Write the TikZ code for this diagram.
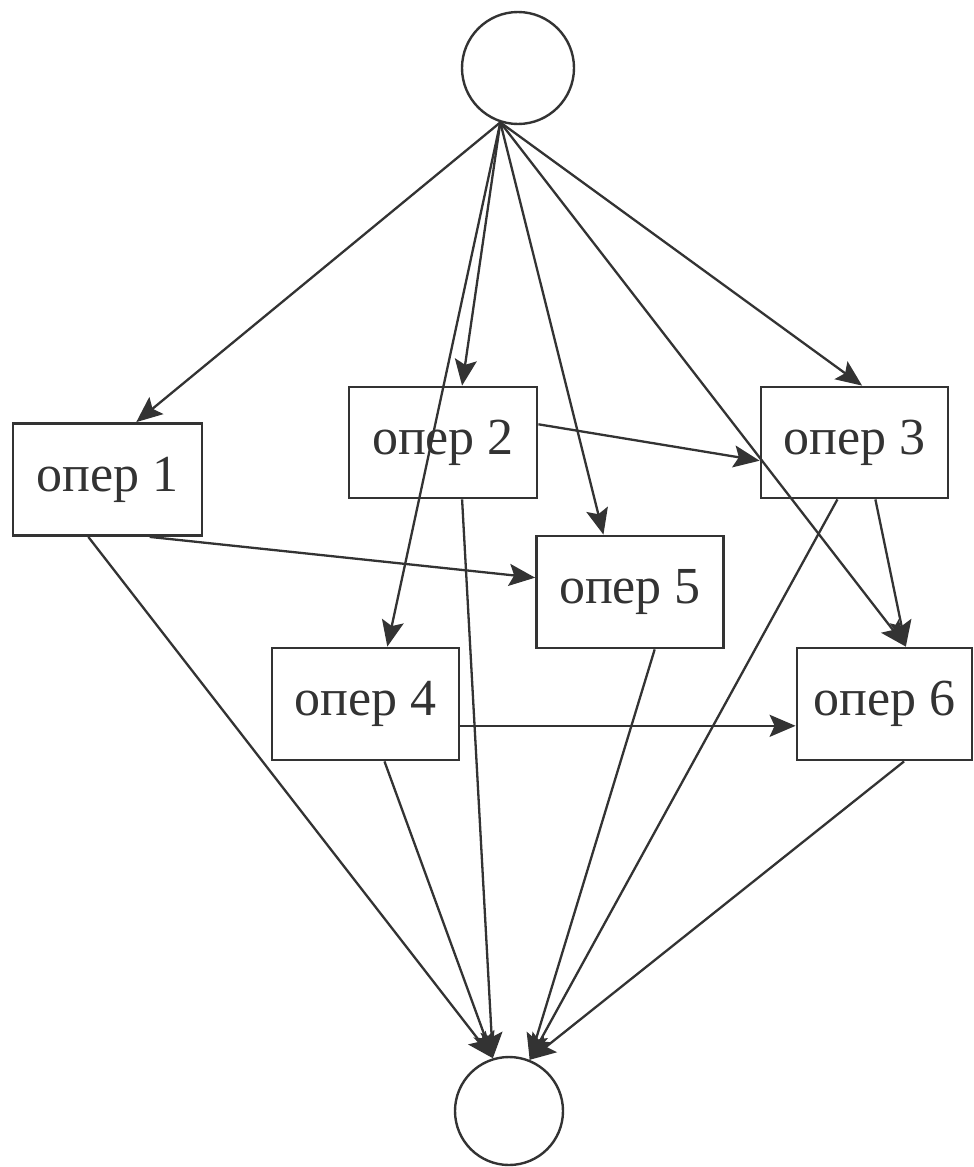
\documentclass[tikz,border=0pt]{standalone}
\usepackage{fontspec}
\setmainfont{Liberation Serif}
\usetikzlibrary{arrows.meta,calc}
\definecolor{ink}{HTML}{333333}
\begin{document}
\begin{tikzpicture}[x=0.5pt,y=-0.5pt,
  opbox/.style={draw=ink,line width=1.4pt,rectangle,minimum height=56pt,inner sep=0pt,font=\fontsize{26}{30}\selectfont,text=ink},
  evt/.style={draw=ink,line width=1.2pt,circle,inner sep=0pt},
  conn/.style={draw=ink,line width=1.15pt,-{Stealth[length=13pt,width=11pt,inset=2.5pt]}}]
\fill[white] (0,0) rectangle (974,1167);
\useasboundingbox (0,0) rectangle (974,1167);
\node[evt,minimum size=56pt] (ct) at (518,68) {};
\node[evt,minimum size=54pt] (cb) at (509,1111) {};
\node[opbox,minimum width=94.5pt] (b1) at (107.5,479.5) {опер 1};
\node[opbox,minimum width=94pt,minimum height=55.5pt] (b2) at (443,442.5) {опер 2};
\node[opbox,minimum width=93.5pt,minimum height=55.5pt] (b3) at (854.5,442.5) {опер 3};
\node[opbox,minimum width=93.5pt] (b5) at (630,592) {опер 5};
\node[opbox,minimum width=93.5pt] (b4) at (365.5,704) {опер 4};
\node[opbox,minimum width=87.5pt] (b6) at (884.5,704) {опер 6};
\coordinate (src) at (ct.252);
% from top event
\draw[conn] (src) -- ($(b1.north west)!0.65!(b1.north east)$);
\draw[conn] (src) -- ($(b2.north west)!0.60!(b2.north east)$);
\draw[conn] (src) -- ($(b4.north west)!0.615!(b4.north east)$);
\draw[conn] (src) -- ($(b5.north west)!0.36!(b5.north east)$);
\draw[conn] (src) -- ($(b6.north west)!0.62!(b6.north east)$);
\draw[conn] (src) -- ($(b3.north west)!0.54!(b3.north east)$);
% between operations
\draw[conn] ($(b2.north east)!0.34!(b2.south east)$) -- ($(b3.north west)!0.66!(b3.south west)$);
\draw[conn] ($(b1.south west)!0.72!(b1.south east)$) -- ($(b5.north west)!0.375!(b5.south west)$);
\draw[conn] ($(b3.south west)!0.61!(b3.south east)$) -- ($(b6.north west)!0.62!(b6.north east)$);
\draw[conn] ($(b4.north east)!0.69!(b4.south east)$) -- ($(b6.north west)!0.69!(b6.south west)$);
% to bottom event
\draw[conn] ($(b1.south west)!0.40!(b1.south east)$) -- (cb.107);
\draw[conn] ($(b2.south west)!0.60!(b2.south east)$) -- (cb.107);
\draw[conn] ($(b4.south west)!0.60!(b4.south east)$) -- (cb.107);
\draw[conn] ($(b5.south west)!0.63!(b5.south east)$) -- (cb.68);
\draw[conn] ($(b3.south west)!0.41!(b3.south east)$) -- (cb.68);
\draw[conn] ($(b6.south west)!0.61!(b6.south east)$) -- (cb.68);
\end{tikzpicture}
\end{document}
